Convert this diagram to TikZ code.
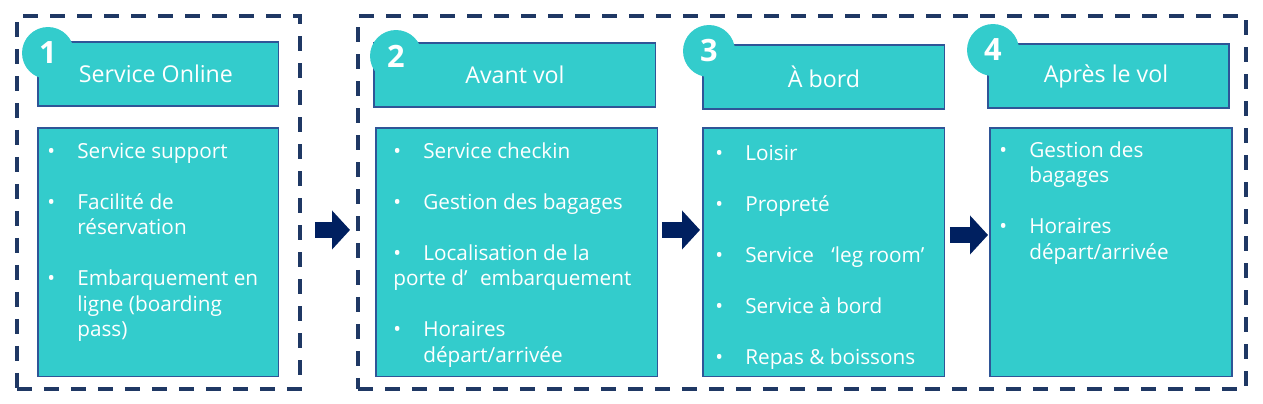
\documentclass[tikz,border=0pt]{standalone}
\usepackage{fontspec}
\setmainfont{Open Sans}
\usetikzlibrary{arrows.meta}
\definecolor{stageteal}{HTML}{33CCCC}
\definecolor{stageedge}{HTML}{2F5597}
\definecolor{framenavy}{HTML}{1F3864}
\definecolor{arrownavy}{HTML}{002060}
\newcommand{\bul}{\makebox[0.6cm][l]{•}}
\newcommand{\ind}{\hspace*{0.6cm}}
\tikzset{
    stagebox/.style={draw=stageedge, line width=0.6pt, fill=stageteal, anchor=north west, inner sep=0pt, outer sep=0pt, text=white, font=\fontsize{13.2}{16}\selectfont},
    stageframe/.style={draw=framenavy, line width=0.08cm, dash pattern=on 0.3cm off 0.24cm, anchor=north west, inner sep=0pt, outer sep=0pt},
    stagenum/.style={circle, fill=stageteal, minimum size=1.04cm, inner sep=0pt, text=white, font=\fontsize{17.5}{20}\selectfont\bfseries},
    itemtext/.style={anchor=north west, inner sep=0pt, align=left, text=white, font=\fontsize{11.8}{14.5}\selectfont},
    flowarrow/.style={line width=0.33cm, color=arrownavy, -{Triangle[length=0.36cm, width=0.76cm]}}
}

\begin{document}
\begin{tikzpicture}[x=0.02cm, y=-0.02cm]
    \useasboundingbox (0,0) rectangle (1263,403);

    \node[stageframe, minimum width=5.66cm, minimum height=7.46cm] (frame1) at (17,16) {};
    \node[stageframe, minimum width=17.76cm, minimum height=7.46cm] (frame2) at (358,16) {};

    \node[stagebox, minimum width=4.82cm, minimum height=1.28cm] (head1) at (38,42) {\hspace*{-0.1cm}Service Online};
    \node[stagebox, minimum width=5.64cm, minimum height=1.28cm] (head2) at (374,43) {Avant vol};
    \node[stagebox, minimum width=4.84cm, minimum height=1.28cm] (head3) at (703,45) {À bord};
    \node[stagebox, minimum width=4.82cm, minimum height=1.28cm] (head4) at (988,44) {\hspace*{-0.1cm}Après le vol};

    \node[stagenum] (num1) at (48,53) {1};
    \node[stagenum] (num2) at (396,56) {2};
    \node[stagenum] (num3) at (709,51) {3};
    \node[stagenum] (num4) at (993,50) {4};

    \node[stagebox, minimum width=4.82cm, minimum height=4.98cm] (body1) at (38,128) {};
    \node[stagebox, minimum width=5.64cm, minimum height=4.98cm] (body2) at (376,128) {};
    \node[stagebox, minimum width=4.84cm, minimum height=4.98cm] (body3) at (703,128) {};
    \node[stagebox, minimum width=4.84cm, minimum height=4.98cm] (body4) at (990,128) {};

    \node[itemtext] (list1) at (47,140) {\strut\bul Service support\\[0.51cm]
        \bul Facilité de\\
        \ind réservation\\[0.51cm]
        \bul Embarquement en\\
        \ind ligne (boarding\\
        \ind pass)};
    \node[itemtext] (list2) at (393,140) {\strut\bul Service checkin\\[0.51cm]
        \bul Gestion des bagages\\[0.51cm]
        \bul Localisation de la\\
        porte d’\hspace{0.25cm}embarquement\\[0.51cm]
        \bul Horaires\\
        \ind départ/arrivée};
    \node[itemtext] (list3) at (715,142) {\strut\bul Loisir\\[0.51cm]
        \bul Propreté\\[0.51cm]
        \bul Service\hspace{0.35cm}‘leg room’\\[0.51cm]
        \bul Service à bord\\[0.51cm]
        \bul Repas \& boissons};
    \node[itemtext] (list4) at (999,139) {\strut\bul Gestion des\\
        \ind bagages\\[0.51cm]
        \bul Horaires\\
        \ind départ/arrivée};

    \path [flowarrow, shorten <=0.72cm, shorten >=0.52cm] ([yshift=0.45cm]body1.east) edge ([yshift=0.45cm]body2.west);
    \path [flowarrow, shorten <=0.08cm, shorten >=0.06cm] ([yshift=0.45cm]body2.east) edge ([yshift=0.45cm]body3.west);
    \path [flowarrow, shorten <=0.1cm, shorten >=0.04cm] ([yshift=0.35cm]body3.east) edge ([yshift=0.35cm]body4.west);
\end{tikzpicture}
\end{document}
